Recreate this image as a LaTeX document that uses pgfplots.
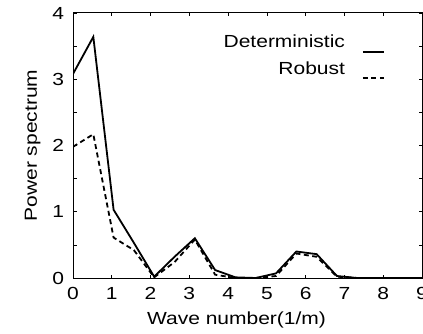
\documentclass[border=0pt]{standalone}
\usepackage{fontspec}
\setmainfont{Liberation Sans}[FakeStretch=1.2]
\usepackage{pgfplots}
\pgfplotsset{compat=1.18}
\begin{document}
\fontsize{17.5}{21}\selectfont
\begin{tikzpicture}
\begin{axis}[
  scale only axis,
  width=349pt, height=265pt,
  xmin=0, xmax=9, ymin=0, ymax=4,
  xtick={0,1,...,9},
  ytick={0,0.5,...,4},
  yticklabels={0,,1,,2,,3,,4},
  tick align=inside,
  major tick length=3.5pt,
  tick style={black, line width=0.6pt},
  axis line style={line width=1pt},
  /pgf/number format/assume math mode=true,
  ticklabel style={font=\fontsize{17.5}{21}\selectfont},
  xticklabel style={yshift=-3pt},
  yticklabel style={xshift=-3pt},
  xlabel={Wave number(1/m)},
  ylabel={Power spectrum},
  label style={font=\fontsize{17.5}{21}\selectfont},
  xlabel style={xshift=-11pt, yshift=-1pt},
  ylabel style={yshift=0pt},
  legend style={draw=none, fill=none, at={(0.894,0.925)}, anchor=north east,
    font=\fontsize{17.5}{21}\selectfont, row sep=7pt, inner sep=0pt},
  legend cell align=right,
  legend plot pos=right,
  legend image code/.code={\path (0pt,3pt) (36pt,0pt); \draw[#1] (15pt,-9pt) -- (36pt,-9pt);},
  clip=true,
]
\addplot[black, line width=1.8pt] coordinates {
(0,3.08) (0.524,3.64) (1.047,1.03) (1.571,0.53) (2.094,0.02) (2.618,0.32)
(3.142,0.60) (3.665,0.12) (4.189,0.01) (4.712,0.00) (5.236,0.07) (5.760,0.40)
(6.283,0.36) (6.807,0.03) (7.330,0.00) (7.854,0.00) (8.378,0.00) (8.901,0.00) (9.425,0.00)
};
\addlegendentry{Deterministic}
\addplot[black, line width=1.8pt, dash pattern=on 5pt off 3.5pt] coordinates {
(0,1.98) (0.524,2.17) (1.047,0.61) (1.571,0.42) (2.094,0.01) (2.618,0.24)
(3.142,0.58) (3.665,0.05) (4.189,0.00) (4.712,0.00) (5.236,0.03) (5.760,0.37)
(6.283,0.32) (6.807,0.02) (7.330,0.00) (7.854,0.00) (8.378,0.00) (8.901,0.00) (9.425,0.00)
};
\addlegendentry{Robust}
\coordinate (bl) at (rel axis cs:0,0);
\coordinate (tr) at (rel axis cs:1,1);
\end{axis}
\pgfresetboundingbox
\path ([xshift=-73pt,yshift=-55pt]bl) rectangle ([xshift=1pt,yshift=13pt]tr);
\end{tikzpicture}
\end{document}
